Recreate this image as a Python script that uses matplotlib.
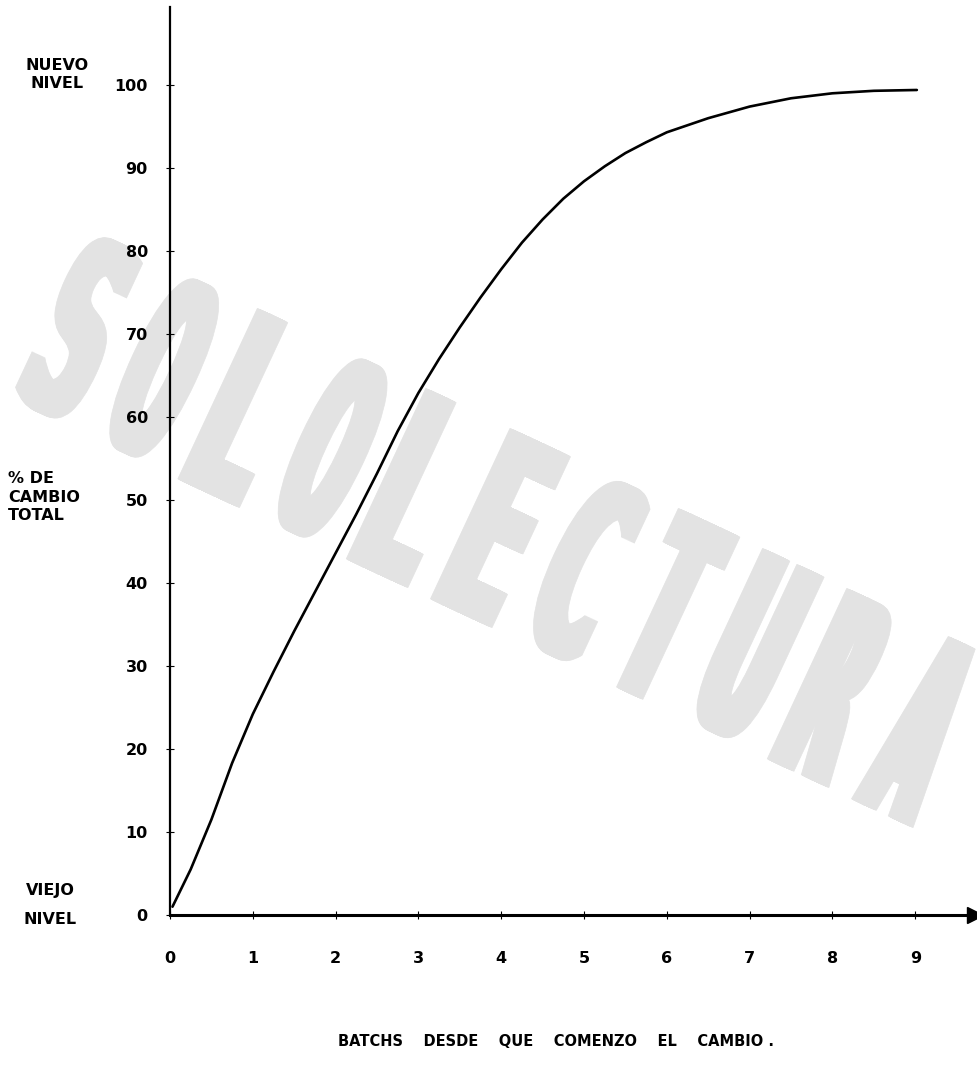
import matplotlib.pyplot as plt
from matplotlib.textpath import TextPath
from matplotlib.patches import PathPatch
from matplotlib.font_manager import FontProperties
from matplotlib.transforms import Affine2D

# values
batchs = [0.03, 0.25, 0.5, 0.75, 1.0, 1.25, 1.5, 1.75, 2.0, 2.25, 2.5, 2.75,
          3.0, 3.25, 3.5, 3.75, 4.0, 4.25, 4.5, 4.75, 5.0, 5.25, 5.5, 5.75,
          6.0, 6.5, 7.0, 7.5, 8.0, 8.5, 9.02]
cambio = [1.0, 5.5, 11.5, 18.3, 24.2, 29.3, 34.2, 38.9, 43.6, 48.3, 53.2, 58.3,
          62.9, 67.0, 70.8, 74.4, 77.8, 81.0, 83.8, 86.3, 88.4, 90.2, 91.8, 93.1,
          94.3, 96.0, 97.4, 98.4, 99.0, 99.3, 99.4]

x_ticks = list(range(0, 10))
y_ticks = list(range(0, 101, 10))
watermark = 'SOLOLECTURA'

W, H = 978, 1067
fig = plt.figure(figsize=(W / 100, H / 100), dpi=100)
ax = fig.add_axes([170 / W, (H - 915) / H, 805 / W, 908 / H])

# watermark: very condensed heavy letters, each one tilted, stepping down to the right
fp = FontProperties(family='DejaVu Sans', weight='bold')
gw, gh, smear = 54, 188, 14
for i, ch in enumerate(watermark):
    tp = TextPath((0, 0), ch, size=100, prop=fp)
    e = tp.get_extents()
    cx, cy = 80 + 84.2 * i, 328 + 40.0 * i
    for dx in range(0, smear + 1, 1):
        tr = (Affine2D()
              .translate(-e.x0 - e.width / 2, -e.y0 - e.height / 2)
              .scale(gw / e.width, gh / e.height)
              .translate(dx - smear / 2, 0)
              .rotate_deg(-25)
              .translate(cx, H - cy))
        fig.add_artist(PathPatch(tp, transform=tr, facecolor='#e3e3e3',
                                 edgecolor='#e3e3e3', lw=0.5, zorder=0))

ax.patch.set_alpha(0)
ax.plot(batchs, cambio, color='black', lw=1.9, solid_capstyle='round', zorder=3)

ax.set_xlim(0, 805 / 82.8)
ax.set_ylim(0, 908 / 8.3)
for s in ['top', 'right']:
    ax.spines[s].set_visible(False)
ax.spines['left'].set_linewidth(1.6)
ax.spines['bottom'].set_linewidth(2.2)
ax.plot(1, 0, '>', color='black', ms=11, transform=ax.get_yaxis_transform(), clip_on=False)

ax.set_xticks(x_ticks)
ax.set_yticks(y_ticks)
ax.tick_params(axis='both', direction='inout', length=6, width=0.8, labelsize=11.5)
ax.tick_params(axis='x', pad=23)
ax.tick_params(axis='y', pad=13)
for lab in ax.get_xticklabels() + ax.get_yticklabels():
    lab.set_fontweight('bold')

fig.text(57 / W, 1 - 75 / H, 'NUEVO\nNIVEL', ha='center', va='center', linespacing=1.25,
         fontsize=11.5, fontweight='bold')
fig.text(8 / W, 1 - 497 / H, '% DE\nCAMBIO\nTOTAL', ha='left', va='center', linespacing=1.3,
         fontsize=11.5, fontweight='bold')
fig.text(50 / W, 1 - 905 / H, 'VIEJO\n\nNIVEL', ha='center', va='center', linespacing=0.95,
         fontsize=11.5, fontweight='bold')
fig.text(556 / W, 1 - 1041 / H, 'BATCHS    DESDE    QUE    COMENZO    EL    CAMBIO .',
         ha='center', va='center', fontsize=10.5, fontweight='bold')

fig.savefig('out.png', dpi=100)
